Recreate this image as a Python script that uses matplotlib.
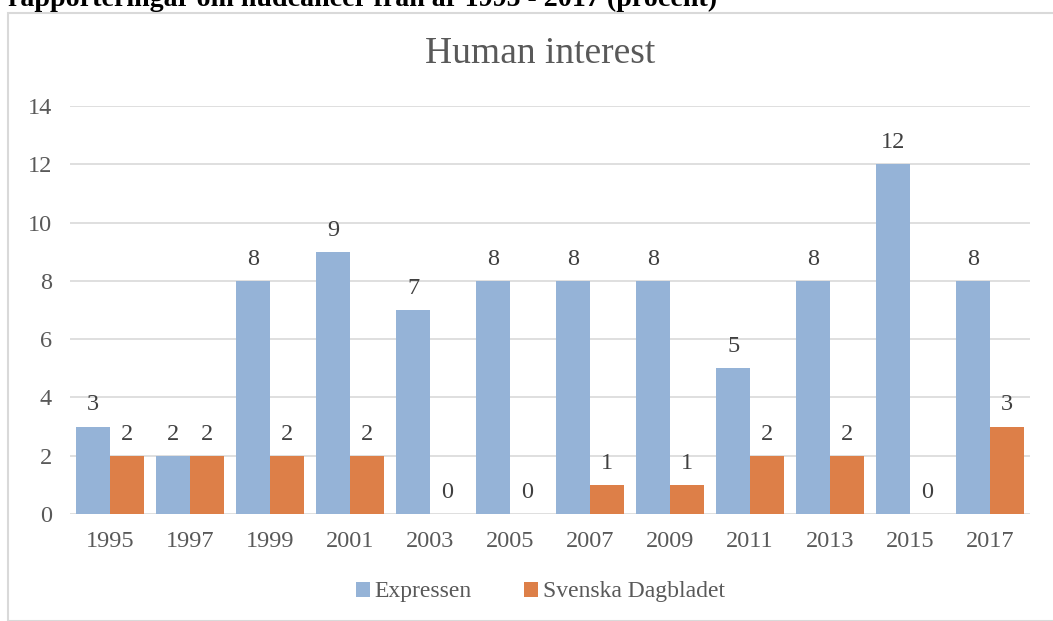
import matplotlib.pyplot as plt
import numpy as np
from matplotlib.patches import Rectangle

years = ["1995", "1997", "1999", "2001", "2003", "2005", "2007", "2009", "2011", "2013", "2015", "2017"]
expressen = [3, 2, 8, 9, 7, 8, 8, 8, 5, 8, 12, 8]
svd = [2, 2, 2, 2, 0, 0, 1, 1, 2, 2, 0, 3]

plt.rcParams["font.family"] = ["Liberation Serif", "DejaVu Serif"]
grey = "#595959"

fig = plt.figure(figsize=(10.53, 6.21), dpi=100)
# chart frame
fig.patches.append(Rectangle((8 / 1053, 0), 1.0, 1 - 13 / 621, transform=fig.transFigure,
                             fill=False, edgecolor="#d9d9d9", linewidth=1.5))
# caption cut off at the top of the picture
fig.text(8 / 1053, 1 - 6 / 621, "rapporteringar om hudcancer från år 1995 - 2017 (procent)",
         fontsize=20.2, fontweight="bold", color="black", va="baseline", ha="left")

ax = fig.add_axes([70 / 1053, 1 - 514 / 621, 960 / 1053, 408 / 621])
x = np.arange(len(years))
width = 0.42

b1 = ax.bar(x - width / 2, expressen, width, color="#95b3d7", label="Expressen")
b2 = ax.bar(x + width / 2, svd, width, color="#dd7f48", label="Svenska Dagbladet")
ax.bar_label(b1, padding=8, fontsize=17.5, color="#404040")
ax.bar_label(b2, padding=8, fontsize=17.5, color="#404040")

ax.set_xlim(-0.5, len(years) - 0.5)
ax.set_ylim(0, 14)
ax.set_yticks(range(0, 15, 2))
ax.set_xticks(x)
ax.set_xticklabels(years)
ax.tick_params(length=0, labelsize=17.5, labelcolor=grey)
ax.tick_params(axis="y", pad=13)
ax.tick_params(axis="x", pad=12)
ax.grid(axis="y", color="#d9d9d9", linewidth=1.2)
ax.set_axisbelow(True)
for s in ax.spines.values():
    s.set_visible(False)

fig.text(0.513, 1 - 54 / 621, "Human interest", fontsize=27, color=grey, ha="center", va="center")

fig.legend(handles=[b1, b2], loc="center", bbox_to_anchor=(0.513, 1 - 592 / 621), ncol=2,
           frameon=False, fontsize=17, labelcolor=grey, handlelength=0.6, handleheight=0.6,
           handletextpad=0.2, columnspacing=2.2)

plt.savefig("out.png")
